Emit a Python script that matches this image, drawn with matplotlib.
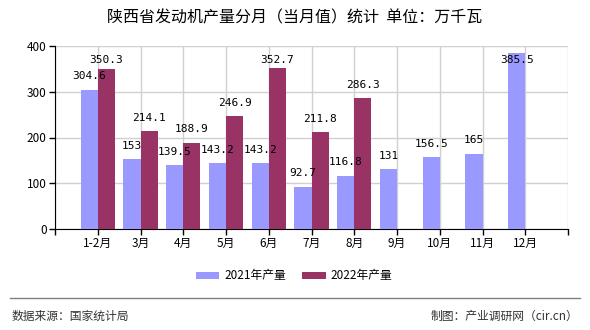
import matplotlib
matplotlib.use("Agg")
import matplotlib.pyplot as plt
import numpy as np

plt.rcParams["font.family"] = ["Noto Sans CJK SC", "DejaVu Sans"]

months = ["1-2月", "3月", "4月", "5月", "6月", "7月", "8月", "9月", "10月", "11月", "12月"]
output_2021 = [304.6, 153, 139.5, 143.2, 143.2, 92.7, 116.8, 131, 156.5, 165, 385.5]
output_2022 = [350.3, 214.1, 188.9, 246.9, 352.7, 211.8, 286.3]
series_names = ["2021年产量", "2022年产量"]
yticks = [0, 100, 200, 300, 400]

C2021 = "#9999FF"
C2022 = "#993366"

fig = plt.figure(figsize=(5.9, 3.3), dpi=100)
ax = fig.add_axes([55 / 590, 1 - 229 / 330, 513 / 590, 183 / 330])

x = np.arange(1, len(months) + 1)
w = 0.4
ax.bar(x[:len(output_2021)] - w / 2, output_2021, width=w, color=C2021, zorder=3, label=series_names[0])
x22 = x[:len(output_2022)]
ax.bar(x22 + w / 2, output_2022, width=w, color=C2022, zorder=3, label=series_names[1])


def put_label(xpos, v):
    # value label above the bar, kept inside the plot area
    y = min(v + 18, 358)
    ax.text(xpos, y, f"{v:g}", ha="center", va="bottom", fontsize=8,
            family="DejaVu Sans Mono", zorder=4)


for xi, v in zip(x, output_2021):
    put_label(xi - w / 2, v)
for xi, v in zip(x22, output_2022):
    put_label(xi + w / 2, v)

ax.set_xlim(0, len(months) + 1)
ax.set_ylim(0, 400)
ax.set_xticks(np.arange(0, len(months) + 2))
ax.set_xticklabels([""] + months + [""], fontsize=8.5)
ax.set_yticks(yticks)
ax.set_yticklabels([str(t) for t in yticks], fontsize=8.5)
ax.grid(True, color="#d0d0d0", linewidth=1, zorder=0)
for s in ["top", "right"]:
    ax.spines[s].set_visible(False)
ax.spines["left"].set_color("black")
ax.spines["bottom"].set_color("black")
ax.tick_params(axis="both", length=4, width=1, color="black", pad=2)

fig.text(0.5, 1 - 18 / 330, "陕西省发动机产量分月（当月值）统计  单位：万千瓦",
         ha="center", va="center", fontsize=11.5)

handles, labels = ax.get_legend_handles_labels()
fig.legend(handles, labels, loc="center", bbox_to_anchor=(294 / 590, 1 - 276 / 330), ncol=2,
           frameon=False, fontsize=8.5, handlelength=2.0, handleheight=0.6, columnspacing=1.4,
           handletextpad=0.4)

fig.add_artist(plt.Line2D([10 / 590, 580 / 590], [1 - 298 / 330, 1 - 298 / 330],
                          color="#808080", linewidth=1))
fig.text(12 / 590, 1 - 316 / 330, "数据来源：国家统计局", ha="left", va="center", fontsize=8.5, color="#333333")
fig.text(578 / 590, 1 - 316 / 330, "制图：产业调研网（cir.cn）", ha="right", va="center", fontsize=8.5, color="#333333")

fig.savefig("out.png", dpi=100)
